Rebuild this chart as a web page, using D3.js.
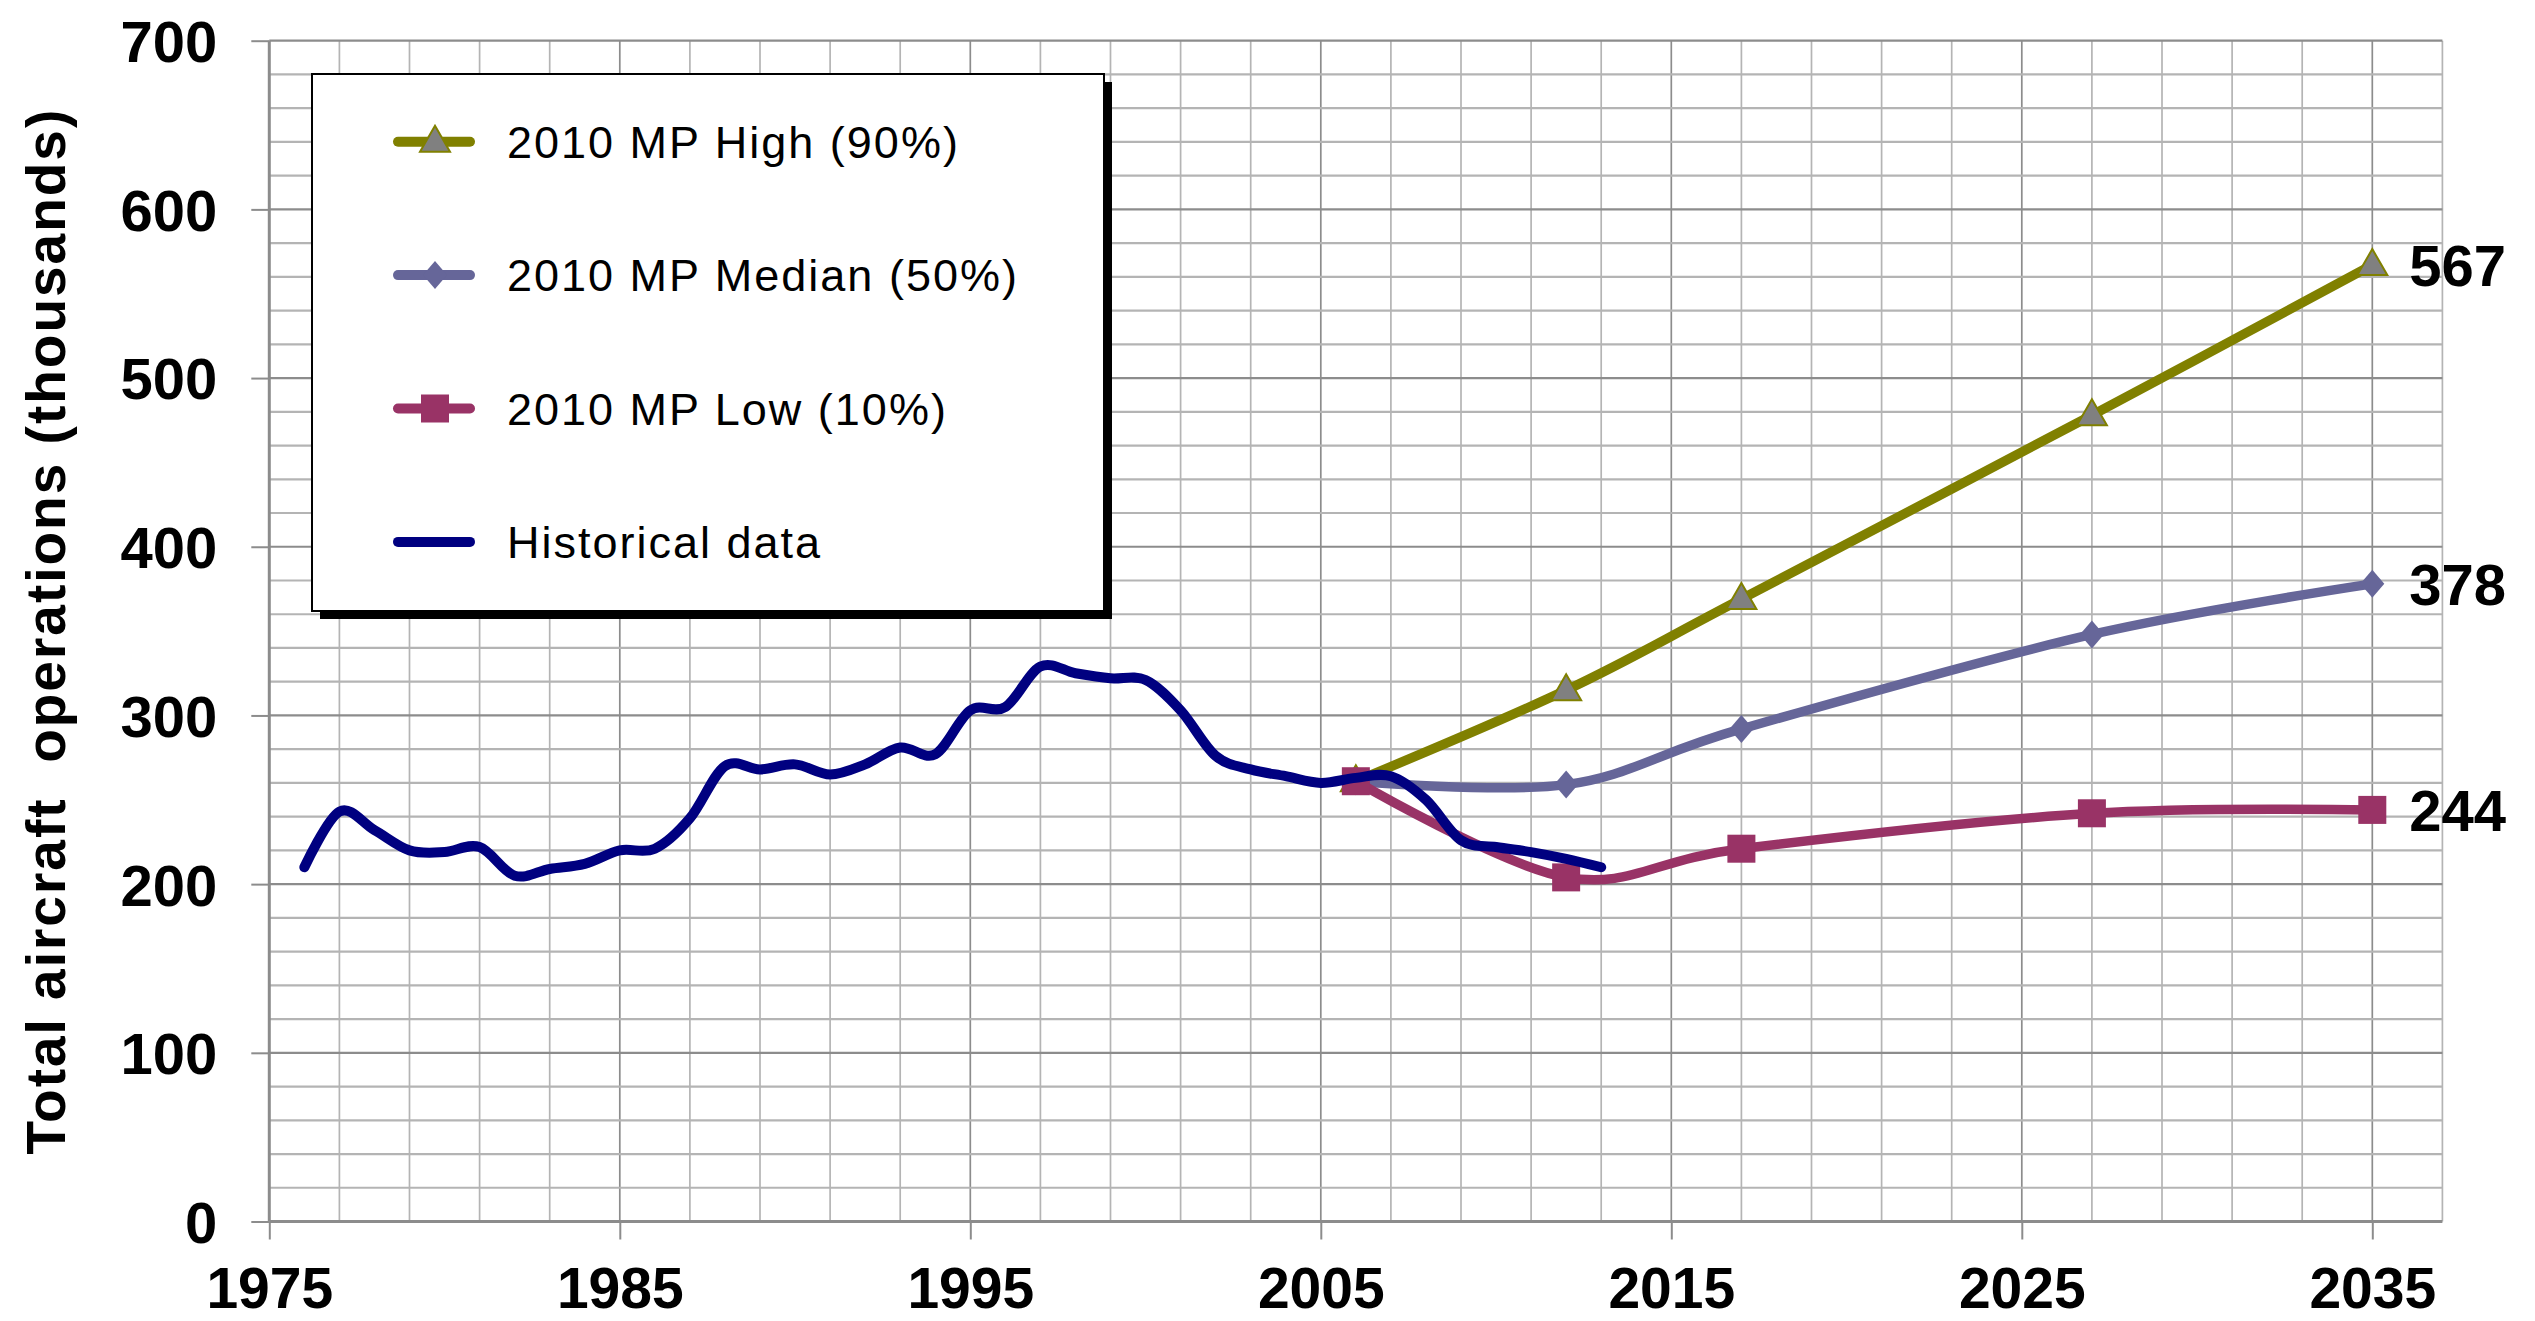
<!DOCTYPE html>
<html>
<head>
<meta charset="utf-8">
<script src="https://cdn.jsdelivr.net/npm/d3@7"></script>
<style>
  html, body { margin: 0; padding: 0; background: white; }
  text { font-family: Arial, "Liberation Sans", sans-serif; }
</style>
</head>
<body>
<div id="chart"></div>
<script>
const width = 2535;
const height = 1321;

// historical data, one value per year
const histYears = d3.range(1976, 2014);
const histValues = [210, 243, 232, 220, 219, 222, 205, 209, 212, 220, 221, 239, 270, 268, 271, 265, 271, 281, 277, 303,
  305, 329, 325, 322, 321, 303, 276, 268, 264, 260, 263, 264, 250, 226, 222, 219, 215, 210];

// 2010 master plan forecasts
const fcYears = [2006, 2012, 2017, 2027, 2035];
const highValues = [261, 315, 369, 478, 567];
const medianValues = [261, 259, 292, 348, 378];
const lowValues = [261, 204, 221, 242, 244];

const xTicks = [1975, 1985, 1995, 2005, 2015, 2025, 2035];
const yTicks = [0, 100, 200, 300, 400, 500, 600, 700];

const legendNames = ["2010 MP High (90%)", "2010 MP Median (50%)", "2010 MP Low (10%)", "Historical data"];

const colors = {
  high: "#808000",
  median: "#666699",
  low: "#993366",
  hist: "#000080"
};

const svg = d3.select("#chart")
  .append("svg")
  .attr("width", width)
  .attr("height", height)
  .style("display", "block");

const x = d3.scaleLinear().domain([1975, 2037]).range([269.3, 2442.4]);
const y = d3.scaleLinear().domain([0, 700]).range([1221.5, 40.7]);

// gridlines
const grid = svg.append("g");
grid.selectAll(".vgrid")
  .data(d3.range(1977, 2038, 2))
  .enter()
  .append("line")
  .attr("x1", d => x(d))
  .attr("x2", d => x(d))
  .attr("y1", y(700))
  .attr("y2", y(0))
  .attr("stroke", d => (d - 1975) % 10 === 0 ? "#8c8c8c" : "#b4b4b4")
  .attr("stroke-width", 1.7);

grid.selectAll(".hgrid")
  .data(d3.range(20, 701, 20))
  .enter()
  .append("line")
  .attr("x1", x(1975))
  .attr("x2", x(2037))
  .attr("y1", d => y(d))
  .attr("y2", d => y(d))
  .attr("stroke", d => d % 100 === 0 ? "#8c8c8c" : "#b4b4b4")
  .attr("stroke-width", 2.2);

// axes
const xAxis = d3.axisBottom(x).tickValues(xTicks).tickSize(18).tickFormat(d3.format("d"));
const yAxis = d3.axisLeft(y).tickValues(yTicks).tickSize(18);

const gx = svg.append("g")
  .attr("transform", `translate(0,${y(0)})`)
  .call(xAxis);
gx.select(".domain").attr("stroke", "#8c8c8c").attr("stroke-width", 3)
  .attr("d", `M${x(1975)},0H${x(2037)}`);
gx.selectAll(".tick line").attr("stroke", "#8c8c8c").attr("stroke-width", 2);
gx.selectAll(".tick text")
  .attr("y", 86)
  .attr("dy", 0)
  .style("font-size", "57px")
  .style("font-weight", "bold")
  .attr("fill", "black");

const gy = svg.append("g")
  .attr("transform", `translate(${x(1975)},0)`)
  .call(yAxis);
gy.select(".domain").attr("stroke", "#8c8c8c").attr("stroke-width", 3)
  .attr("d", `M0,${y(700)}V${y(0)}`);
gy.selectAll(".tick line").attr("stroke", "#8c8c8c").attr("stroke-width", 2);
gy.selectAll(".tick text")
  .attr("x", -52)
  .attr("dy", "0.36em")
  .style("font-size", "58px")
  .style("font-weight", "bold")
  .attr("fill", "black");

// y axis title
svg.append("text")
  .attr("transform", `translate(65,${(y(0) + y(700)) / 2}) rotate(-90)`)
  .attr("text-anchor", "middle")
  .style("font-size", "55px")
  .style("font-weight", "bold")
  .style("letter-spacing", "2px")
  .style("white-space", "pre")
  .text("Total aircraft  operations (thousands)");

const line = d3.line()
  .x(d => x(d.year))
  .y(d => y(d.value))
  .curve(d3.curveCardinal.tension(0));

function toPoints(years, values) {
  return years.map((yr, i) => ({ year: yr, value: values[i] }));
}

// marker shapes, centred on 0,0
function triangle(g) {
  g.append("path")
    .attr("d", "M0,-16L15,10L-15,10Z")
    .attr("fill", "#808080")
    .attr("stroke", colors.high)
    .attr("stroke-width", 2);
}
function diamond(g) {
  g.append("path")
    .attr("d", "M0,-14L12,0L0,14L-12,0Z")
    .attr("fill", colors.median);
}
function square(g) {
  g.append("rect")
    .attr("x", -14).attr("y", -14)
    .attr("width", 28).attr("height", 28)
    .attr("fill", colors.low);
}

const series = [
  { key: "high", values: highValues, marker: triangle },
  { key: "median", values: medianValues, marker: diamond },
  { key: "low", values: lowValues, marker: square }
];

series.forEach(s => {
  const pts = toPoints(fcYears, s.values);
  svg.append("path")
    .datum(pts)
    .attr("d", line)
    .attr("fill", "none")
    .attr("stroke", colors[s.key])
    .attr("stroke-width", 9.5)
    .attr("stroke-linejoin", "round")
    .attr("stroke-linecap", "round");

  svg.selectAll(".mk-" + s.key)
    .data(pts)
    .enter()
    .append("g")
    .attr("class", "mk-" + s.key)
    .attr("transform", d => `translate(${x(d.year)},${y(d.value)})`)
    .each(function () { s.marker(d3.select(this)); });
});

svg.append("path")
  .datum(toPoints(histYears, histValues))
  .attr("d", line)
  .attr("fill", "none")
  .attr("stroke", colors.hist)
  .attr("stroke-width", 10)
  .attr("stroke-linejoin", "round")
  .attr("stroke-linecap", "round");

// end value labels
svg.selectAll(".endLabel")
  .data(series)
  .enter()
  .append("text")
  .attr("class", "endLabel")
  .attr("x", x(2035) + 37)
  .attr("y", d => y(d.values[d.values.length - 1]))
  .attr("dy", "0.36em")
  .style("font-size", "58px")
  .style("font-weight", "bold")
  .text(d => d.values[d.values.length - 1]);

// legend
const legend = svg.append("g");
legend.append("rect")
  .attr("x", 320).attr("y", 82)
  .attr("width", 792).attr("height", 537)
  .attr("fill", "black");
legend.append("rect")
  .attr("x", 312).attr("y", 74)
  .attr("width", 792).attr("height", 537)
  .attr("fill", "white")
  .attr("stroke", "black")
  .attr("stroke-width", 2);

const legendKeys = ["high", "median", "low", "hist"];
const legendMarkers = [triangle, diamond, square, null];

const items = legend.selectAll(".item")
  .data(legendNames)
  .enter()
  .append("g")
  .attr("class", "item")
  .attr("transform", (d, i) => `translate(0,${141.7 + i * 133.4})`);

items.append("line")
  .attr("x1", 398).attr("x2", 470)
  .attr("y1", 0).attr("y2", 0)
  .attr("stroke", (d, i) => colors[legendKeys[i]])
  .attr("stroke-width", 10)
  .attr("stroke-linecap", "round");

items.each(function (d, i) {
  if (legendMarkers[i]) {
    const g = d3.select(this).append("g").attr("transform", "translate(435,0)");
    legendMarkers[i](g);
  }
});

items.append("text")
  .attr("x", 507)
  .attr("y", 16)
  .style("font-size", "45px")
  .style("letter-spacing", "2px")
  .text(d => d);
</script>
</body>
</html>
